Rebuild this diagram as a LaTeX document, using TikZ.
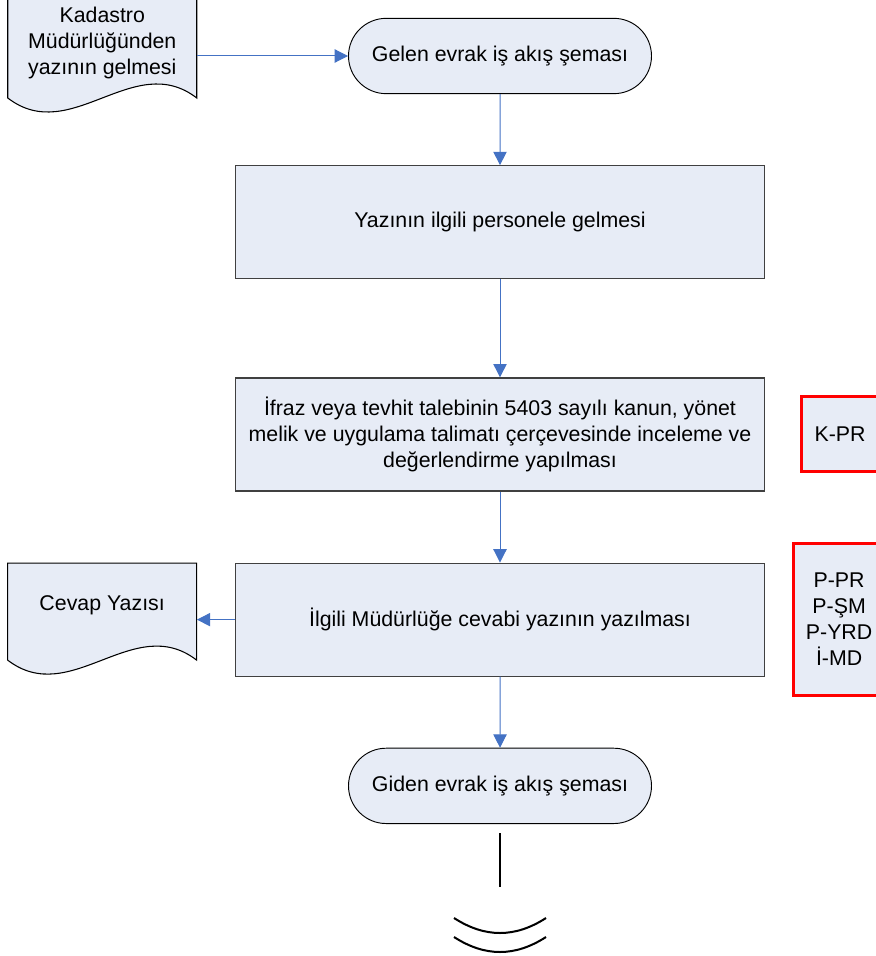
\documentclass[tikz,border=0pt]{standalone}
\usepackage{fontspec}
\setmainfont{Liberation Sans}
\usetikzlibrary{arrows.meta, positioning, shapes.misc, calc}
\definecolor{boxblue}{RGB}{231,236,246}
\definecolor{arrowblue}{RGB}{68,114,196}
\definecolor{edgegray}{RGB}{64,64,64}
\pgfdeclarelayer{background}
\pgfsetlayers{background,main}
\tikzstyle{block} = [draw=edgegray, fill=boxblue, rectangle, line width=0.9pt, minimum width=396.75pt, minimum height=84.75pt, align=center, inner sep=0pt]
\tikzstyle{term} = [draw=black, fill=boxblue, rounded rectangle, line width=0.7pt, minimum width=227.25pt, minimum height=56.5pt, inner sep=0pt]
\tikzstyle{docbox} = [rectangle, minimum width=141.75pt, minimum height=20pt, align=center, inner sep=0pt]
\tikzstyle{docshape} = [draw=black, fill=boxblue, line width=0.8pt]
\tikzstyle{codebox} = [draw=red, fill=boxblue, rectangle, line width=2.25pt, align=center, inner sep=0pt]
\tikzstyle{arrow} = [-{Triangle[length=10pt,width=10pt]}, arrowblue, line width=0.75pt]
\tikzstyle{cutmark} = [black, line width=1.5pt]
% #1 node, #2 height of the top edge above the text centre
\newcommand{\docpath}[2]{%
  \filldraw[docshape] ($(#1.center)+(-70.875pt,#2)$) -- ($(#1.center)+(70.875pt,#2)$) -- ($(#1.center)+(70.875pt,-41.25pt)$)
    .. controls +(-47.25pt,36.4pt) and +(47.25pt,-36.4pt) .. ($(#1.center)+(-70.875pt,-41.25pt)$) -- cycle;}

\begin{document}
\begin{tikzpicture}[font=\fontsize{16pt}{19.5pt}\selectfont]
    \useasboundingbox (0,0) rectangle (656.25pt,-717pt);

    % Place the blocks
    \node [term] (gelen) at (375pt,-42pt) {Gelen evrak iş akış şeması};
    \node [docbox, left=113.25pt of gelen, yshift=9.75pt] (kadastro) {Kadastro\\Müdürlüğünden\\yazının gelmesi};
    \node [block, below=53.25pt of gelen] (yazi) {Yazının ilgili personele gelmesi};
    \node [block, below=73.5pt of yazi] (ifraz) {İfraz veya tevhit talebinin 5403 sayılı kanun, yönet\\melik ve uygulama talimatı çerçevesinde inceleme ve\\değerlendirme yapılması};
    \node [codebox, right=26.25pt of ifraz, minimum width=57.75pt, minimum height=56.25pt] (kpr) {K-PR};
    \node [block, below=53.25pt of ifraz] (cevabi) {İlgili Müdürlüğe cevabi yazının yazılması};
    \node [docbox, left=28.5pt of cevabi, yshift=10.9pt] (cevap) {Cevap Yazısı};
    \node [codebox, right=20.25pt of cevabi, minimum width=68.25pt, minimum height=114pt] (ppr) {P-PR\\P-ŞM\\P-YRD\\İ-MD};
    \node [term, below=53.25pt of cevabi] (giden) {Giden evrak iş akış şeması};
    \coordinate [below=6.75pt of giden] (cuttop);
    \coordinate [below=40.5pt of cuttop] (cutbot);

    % Document shapes behind the text
    \begin{pgfonlayer}{background}
      \docpath{kadastro}{36pt}
      \docpath{cevap}{31.5pt}
    \end{pgfonlayer}

    % Connect the nodes
    \draw [arrow] (gelen.west -| kadastro.east) -- (gelen.west);
    \draw [arrow] (gelen) -- (yazi);
    \draw [arrow] (yazi) -- (ifraz);
    \draw [arrow] (ifraz) -- (cevabi);
    \draw [arrow] (cevabi.west) -- (cevabi.west -| cevap.east);
    \draw [arrow] (cevabi) -- (giden);

    % Off-page mark
    \draw [cutmark] (cuttop) -- (cutbot);
    \draw [cutmark] ($(cutbot)+(-34.5pt,-23.25pt)$) .. controls +(23.25pt,-15pt) and +(-23.25pt,-15pt) .. ($(cutbot)+(34.5pt,-23.25pt)$);
    \draw [cutmark] ($(cutbot)+(-34.5pt,-37.5pt)$) .. controls +(23.25pt,-15pt) and +(-23.25pt,-15pt) .. ($(cutbot)+(34.5pt,-37.5pt)$);
\end{tikzpicture}
\end{document}
